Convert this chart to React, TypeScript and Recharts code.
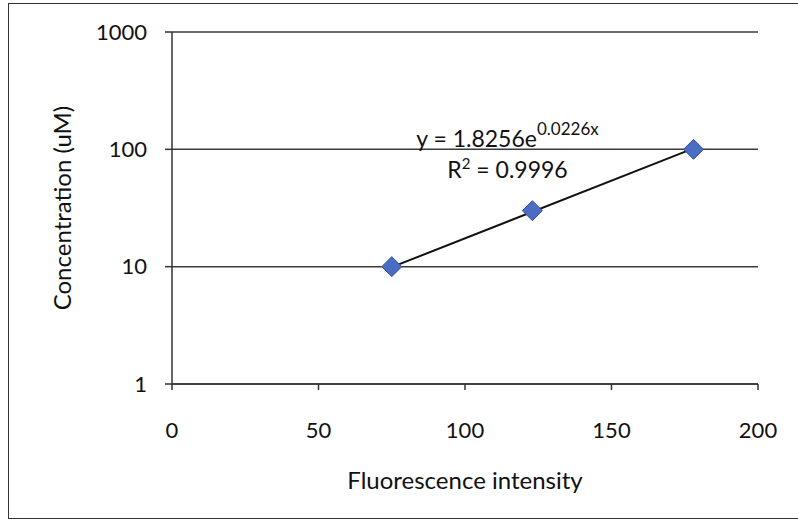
import React from "react";
import {
  ScatterChart,
  Scatter,
  XAxis,
  YAxis,
  CartesianGrid,
  ReferenceDot,
} from "recharts";

// fluorescence intensity vs concentration (uM)
const intensity = [75, 123, 178];
const concentration = [10, 30, 100];

// exponential trendline as drawn, from first to last point
const trendX = [75, 178];
const trendY = [9.9, 102];

const xTicks = [0, 50, 100, 150, 200];
const yTicks = [1, 10, 100, 1000];

const points = intensity.map((x, i) => ({ x, y: concentration[i] }));
const trend = trendX.map((x, i) => ({ x, y: trendY[i] }));

const FONT = "Lato, 'Open Sans', sans-serif";

const Diamond = (props: any) => {
  const { cx, cy } = props;
  const r = 10;
  return (
    <polygon
      points={`${cx},${cy - r} ${cx + r},${cy} ${cx},${cy + r} ${cx - r},${cy}`}
      fill="#4a6cc2"
      stroke="#34519e"
      strokeWidth={1}
    />
  );
};

const NoDot = () => null;

const EquationLabel = (props: any) => {
  const { viewBox } = props;
  const cx = viewBox.x;
  const cy = viewBox.y;
  return (
    <g fontFamily={FONT} fill="#111">
      <text x={cx} y={cy - 2} fontSize={23} textAnchor="middle">
        y = 1.8256e
        <tspan fontSize={17} dy={-12}>0.0226x</tspan>
      </text>
      <text x={cx} y={cy + 29} fontSize={23} textAnchor="middle">
        R
        <tspan fontSize={15} dy={-9}>2</tspan>
        <tspan dy={9}> = 0.9996</tspan>
      </text>
    </g>
  );
};

const App: React.FC = () => {
  return (
    <div style={{ position: "absolute", left: 0, top: 0, width: 798, height: 527, background: "#fff" }}>
      <div
        style={{
          position: "absolute",
          left: 8,
          top: 3,
          width: 800,
          height: 516,
          border: "1.5px solid #333",
          boxSizing: "border-box",
        }}
      />
      <ScatterChart
        width={798}
        height={527}
        margin={{ top: 32, right: 40, bottom: 43, left: 0 }}
        style={{ position: "absolute", left: 0, top: 0, fontFamily: FONT }}
      >
        <CartesianGrid vertical={false} stroke="#3a3a3a" strokeWidth={1.5} />
        <XAxis
          type="number"
          dataKey="x"
          domain={[0, 200]}
          ticks={xTicks}
          height={100}
          tickSize={6}
          tickMargin={32}
          stroke="#333"
          strokeWidth={1.5}
          tick={{ fill: "#111", fontSize: 22 }}
          label={{
            value: "Fluorescence intensity",
            position: "insideBottom",
            offset: -5,
            fill: "#111",
            fontSize: 24,
          }}
        />
        <YAxis
          type="number"
          dataKey="y"
          scale="log"
          domain={[1, 1000]}
          ticks={yTicks}
          allowDataOverflow
          width={172}
          tickSize={7}
          tickMargin={18}
          stroke="#333"
          strokeWidth={1.5}
          tick={{ fill: "#111", fontSize: 22 }}
          label={{
            value: "Concentration (uM)",
            position: "insideLeft",
            angle: -90,
            offset: 62,
            fill: "#111",
            fontSize: 24,
            style: { textAnchor: "middle" },
          }}
        />
        <Scatter
          data={trend}
          line={{ stroke: "#111", strokeWidth: 2 }}
          shape={<NoDot />}
          isAnimationActive={false}
        />
        <Scatter data={points} shape={<Diamond />} isAnimationActive={false} />
        <ReferenceDot x={114.5} y={100} r={0} ifOverflow="visible" label={<EquationLabel />} />
      </ScatterChart>
    </div>
  );
};

export default App;
